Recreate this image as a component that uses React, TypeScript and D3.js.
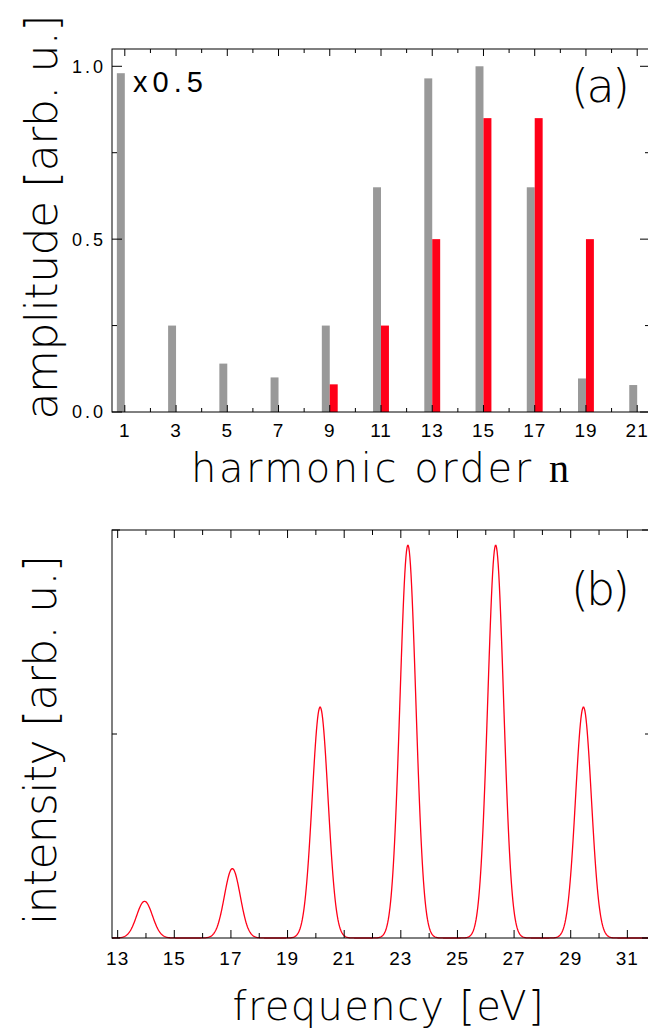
import { useEffect, useRef } from "react"
import * as d3 from "d3"

// panel (a): harmonic amplitudes
const harmonicOrders = [1, 3, 5, 7, 9, 11, 13, 15, 17, 19, 21]
const grayAmplitude = [0.98, 0.25, 0.14, 0.1, 0.25, 0.65, 0.965, 1.0, 0.65, 0.097, 0.078]
const redOrders = [9, 11, 13, 15, 17, 19]
const redAmplitude = [0.08, 0.25, 0.5, 0.85, 0.85, 0.5]
const orderTicks = [1, 3, 5, 7, 9, 11, 13, 15, 17, 19, 21]
const orderMinorTicks = [2, 4, 6, 8, 10, 12, 14, 16, 18, 20]
const ampTicks = [0, 0.5, 1.0]
const ampMinorTicks = [0.25, 0.75]

// panel (b): spectrum peaks (centre, height, rms width)
const peakEnergies = [13.95, 17.05, 20.15, 23.25, 26.35, 29.45]
const peakIntensities = [0.09, 0.17, 0.566, 0.963, 0.963, 0.566]
const peakWidths = [0.28, 0.28, 0.28, 0.28, 0.28, 0.28]
const freqTicks = [13, 15, 17, 19, 21, 23, 25, 27, 29, 31]
const freqMinorTicks = [14, 16, 18, 20, 22, 24, 26, 28, 30]
const intensityTicks = [0, 1]
const intensityMinorTicks = [0.5]

const RED = "#ff0018"
const GRAY = "#999999"
const TITLE_FONT = "'DejaVu Sans', sans-serif"
const TICK_FONT = "'Liberation Sans', Arial, sans-serif"

export default function App() {
  const svgRef = useRef<SVGSVGElement>(null)

  useEffect(() => {
    if (!svgRef.current) return
    const svg = d3.select(svgRef.current)
    svg.selectAll("*").remove()

    const frame = (g, x, y, xMajor, xMinor, yMajor, yMinor, xLen, yLen) => {
      const [x0, x1] = x.range()
      const [y0, y1] = y.range()
      g.append("rect")
        .attr("x", x0).attr("y", y1)
        .attr("width", x1 - x0).attr("height", y0 - y1)
        .attr("fill", "none").attr("stroke", "#000").attr("stroke-width", 1)
      const tick = (v, len, axis) => {
        if (axis === "x") {
          g.append("line").attr("x1", x(v)).attr("x2", x(v)).attr("y1", y0).attr("y2", y0 - len)
            .attr("stroke", "#000")
          g.append("line").attr("x1", x(v)).attr("x2", x(v)).attr("y1", y1).attr("y2", y1 + len)
            .attr("stroke", "#000")
        } else {
          g.append("line").attr("y1", y(v)).attr("y2", y(v)).attr("x1", x0).attr("x2", x0 + len)
            .attr("stroke", "#000")
          g.append("line").attr("y1", y(v)).attr("y2", y(v)).attr("x1", x1).attr("x2", x1 - len)
            .attr("stroke", "#000")
        }
      }
      xMajor.forEach((v) => tick(v, xLen[0], "x"))
      xMinor.forEach((v) => tick(v, xLen[1], "x"))
      yMajor.forEach((v) => tick(v, yLen[0], "y"))
      yMinor.forEach((v) => tick(v, yLen[1], "y"))
    }

    // ---------- panel (a)
    const xa = d3.scaleLinear().domain([0.5, 21.5]).range([112, 650])
    const ya = d3.scaleLinear().domain([0, 1.05]).range([412, 49])
    const barW = 0.31
    const ga = svg.append("g")

    ga.selectAll("rect.gray")
      .data(harmonicOrders)
      .enter()
      .append("rect")
      .attr("class", "gray")
      .attr("x", (d) => xa(d - barW))
      .attr("width", (d) => xa(d) - xa(d - barW))
      .attr("y", (d, i) => ya(grayAmplitude[i]))
      .attr("height", (d, i) => ya(0) - ya(grayAmplitude[i]))
      .attr("fill", GRAY)

    ga.selectAll("rect.red")
      .data(redOrders)
      .enter()
      .append("rect")
      .attr("class", "red")
      .attr("x", (d) => xa(d))
      .attr("width", (d) => xa(d + barW) - xa(d))
      .attr("y", (d, i) => ya(redAmplitude[i]))
      .attr("height", (d, i) => ya(0) - ya(redAmplitude[i]))
      .attr("fill", RED)

    frame(ga, xa, ya, orderTicks, orderMinorTicks, ampTicks, ampMinorTicks, [7, 4], [10, 5])

    ga.selectAll("text.xt")
      .data(orderTicks)
      .enter()
      .append("text")
      .attr("x", (d) => xa(d))
      .attr("y", 437)
      .attr("text-anchor", "middle")
      .attr("font-family", TICK_FONT)
      .attr("font-size", 19)
      .attr("letter-spacing", 1)
      .text((d) => d)

    ga.selectAll("text.yt")
      .data(ampTicks)
      .enter()
      .append("text")
      .attr("x", 103)
      .attr("y", (d) => ya(d))
      .attr("dy", "0.36em")
      .attr("text-anchor", "end")
      .attr("font-family", TICK_FONT)
      .attr("font-size", 18)
      .attr("textLength", 31)
      .text((d) => d3.format(".1f")(d))

    ga.append("text")
      .attr("x", 133).attr("y", 92)
      .attr("font-family", TICK_FONT).attr("font-size", 29)
      .attr("textLength", 70)
      .text("x0.5")

    ga.append("text")
      .attr("x", 571).attr("y", 102)
      .attr("font-family", TITLE_FONT).attr("font-weight", 200).attr("font-size", 46)
      .attr("textLength", 59)
      .text("(a)")

    const xta = ga.append("text")
      .attr("x", 380).attr("y", 482)
      .attr("text-anchor", "middle")
      .attr("font-family", TITLE_FONT).attr("font-weight", 200).attr("font-size", 40)
      .attr("textLength", 378)
    xta.append("tspan").text("harmonic order ")
    xta.append("tspan").attr("font-family", "'Liberation Serif', serif").attr("font-weight", 400).text("n")

    ga.append("text")
      .attr("transform", "translate(57,217) rotate(-90)")
      .attr("text-anchor", "middle")
      .attr("font-family", TITLE_FONT).attr("font-weight", 200).attr("font-size", 44)
      .attr("textLength", 405)
      .text("amplitude [arb. u.]")

    // ---------- panel (b)
    const xb = d3.scaleLinear().domain([12.8, 31.8]).range([112, 650])
    const yb = d3.scaleLinear().domain([0, 1]).range([938, 530])
    const gb = svg.append("g")

    const energies = d3.range(12.8, 31.8, 0.02)
    const spectrum = energies.map((e) => ({
      e,
      v: d3.sum(peakEnergies, (c, i) =>
        peakIntensities[i] * Math.exp(-((e - c) ** 2) / (2 * peakWidths[i] ** 2))),
    }))
    const line = d3.line<{ e: number; v: number }>().x((d) => xb(d.e)).y((d) => yb(d.v))

    gb.append("path")
      .datum(spectrum)
      .attr("d", line)
      .attr("fill", "none")
      .attr("stroke", RED)
      .attr("stroke-width", 1.3)

    frame(gb, xb, yb, freqTicks, freqMinorTicks, intensityTicks, intensityMinorTicks, [8, 5], [8, 5])

    gb.selectAll("text.xt")
      .data(freqTicks)
      .enter()
      .append("text")
      .attr("x", (d) => xb(d))
      .attr("y", 965)
      .attr("text-anchor", "middle")
      .attr("font-family", TICK_FONT)
      .attr("font-size", 19)
      .attr("letter-spacing", 1)
      .text((d) => d)

    gb.append("text")
      .attr("x", 571).attr("y", 605)
      .attr("font-family", TITLE_FONT).attr("font-weight", 200).attr("font-size", 46)
      .attr("textLength", 59)
      .text("(b)")

    gb.append("text")
      .attr("x", 388).attr("y", 1020)
      .attr("text-anchor", "middle")
      .attr("font-family", TITLE_FONT).attr("font-weight", 200).attr("font-size", 40)
      .attr("textLength", 311)
      .text("frequency [eV]")

    gb.append("text")
      .attr("transform", "translate(56,740) rotate(-90)")
      .attr("text-anchor", "middle")
      .attr("font-family", TITLE_FONT).attr("font-weight", 200).attr("font-size", 44)
      .attr("textLength", 370)
      .text("intensity [arb. u.]")
  }, [])

  return (
    <svg
      ref={svgRef}
      width={648}
      height={1030}
      style={{ position: "absolute", left: 0, top: 0, background: "#fff" }}
    />
  )
}
